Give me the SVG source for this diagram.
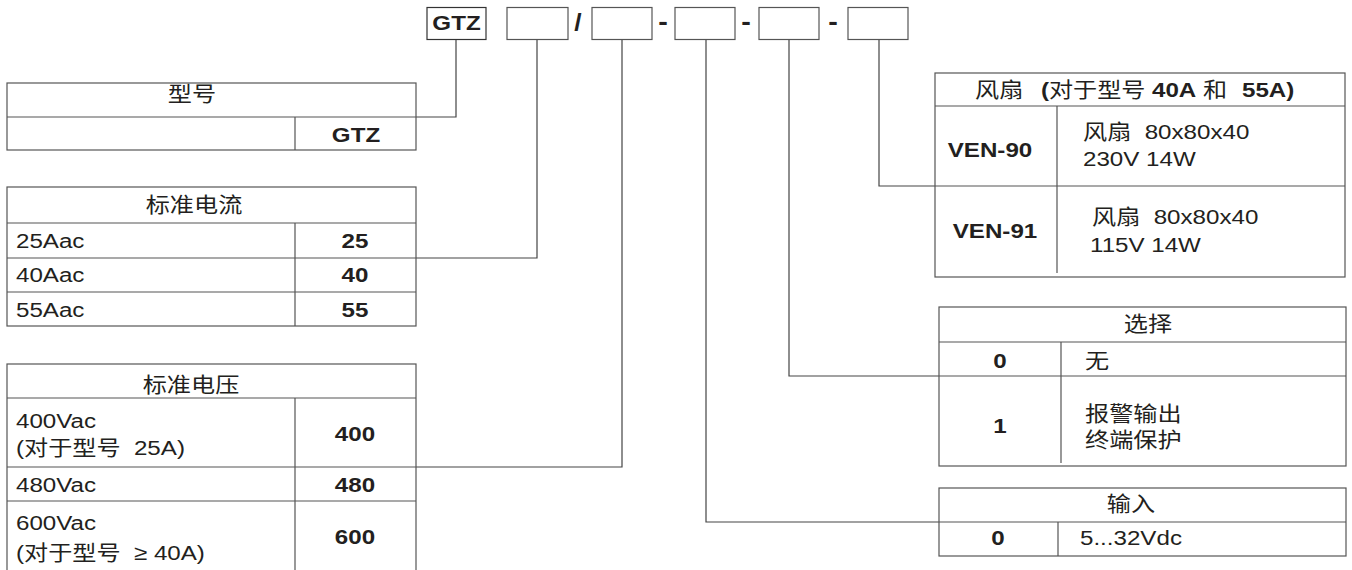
<svg xmlns="http://www.w3.org/2000/svg" width="1352" height="570" viewBox="0 0 1352 570">
<style>
.t{font-family:"Liberation Sans","Noto Sans CJK SC",sans-serif;font-size:21px;fill:#231f20}
.b{font-weight:bold}
.m{text-anchor:middle}
.sep{font-size:25px}
.frame{fill:none;stroke:#555;stroke-width:1.2}
.ln{stroke:#555;stroke-width:1.2;fill:none}
.conn{fill:none;stroke:#444;stroke-width:1.2}
.top{fill:none;stroke:#555;stroke-width:1.2}
</style>
<rect width="1352" height="570" fill="#fff"/>

<g id="code">
  <rect class="top" x="427" y="7.5" width="59" height="32" style="stroke:#333"/>
  <text class="t b m" transform="translate(456.5 30) scale(1.15 1)">GTZ</text>
  <rect class="top" x="507" y="7.5" width="61" height="32"/>
  <text class="t b m" style="font-size:23px" transform="translate(578 31) scale(1.15 1)">/</text>
  <rect class="top" x="592" y="7.5" width="60" height="32"/>
  <text class="t b m sep" transform="translate(663 30) scale(1.15 1)">-</text>
  <rect class="top" x="675" y="7.5" width="60" height="32"/>
  <text class="t b m sep" transform="translate(746 30) scale(1.15 1)">-</text>
  <rect class="top" x="759" y="7.5" width="60" height="32"/>
  <text class="t b m sep" transform="translate(833 30) scale(1.15 1)">-</text>
  <rect class="top" x="848" y="7.5" width="60" height="32"/>
</g>

<g id="connectors">
  <path class="conn" d="M456,40 V117 H416"/>
  <path class="conn" d="M537,40 V258 H416"/>
  <path class="conn" d="M622,40 V467 H416"/>
  <path class="conn" d="M706,40 V522 H939"/>
  <path class="conn" d="M789,40 V376 H939"/>
  <path class="conn" d="M879,40 V186 H935"/>
</g>

<g id="model">
  <rect class="frame" x="7" y="83" width="409" height="67"/>
  <path class="ln" d="M7,117 H416 M295,117 V150"/>
  <text class="t m" transform="translate(192 101) scale(1.15 1)">型号</text>
  <text class="t b m" transform="translate(356 142) scale(1.15 1)">GTZ</text>
</g>

<g id="current">
  <rect class="frame" x="7" y="187" width="409" height="139"/>
  <path class="ln" d="M7,223 H416 M7,258 H416 M7,292 H416 M295,223 V326"/>
  <text class="t m" transform="translate(194 212) scale(1.15 1)">标准电流</text>
  <text class="t" transform="translate(16 248) scale(1.15 1)">25Aac</text>
  <text class="t b m" transform="translate(355 248) scale(1.15 1)">25</text>
  <text class="t" transform="translate(16 282) scale(1.15 1)">40Aac</text>
  <text class="t b m" transform="translate(355 282) scale(1.15 1)">40</text>
  <text class="t" transform="translate(16 317) scale(1.15 1)">55Aac</text>
  <text class="t b m" transform="translate(355 317) scale(1.15 1)">55</text>
</g>

<g id="voltage">
  <rect class="frame" x="7" y="364" width="409" height="230"/>
  <path class="ln" d="M7,398 H416 M7,467 H416 M7,501 H416 M295,398 V594"/>
  <text class="t m" transform="translate(191 392) scale(1.15 1)">标准电压</text>
  <text class="t" transform="translate(16 428) scale(1.15 1)">400Vac</text>
  <text class="t" transform="translate(16 455) scale(1.15 1)">(对于型号&#160;&#160;25A)</text>
  <text class="t b m" transform="translate(355 441) scale(1.15 1)">400</text>
  <text class="t" transform="translate(16 492) scale(1.15 1)">480Vac</text>
  <text class="t b m" transform="translate(355 492) scale(1.15 1)">480</text>
  <text class="t" transform="translate(16 530) scale(1.15 1)">600Vac</text>
  <text class="t" transform="translate(16 560) scale(1.15 1)">(对于型号&#160;&#160;≥ 40A)</text>
  <text class="t b m" transform="translate(355 544) scale(1.15 1)">600</text>
</g>

<g id="fan">
  <rect class="frame" x="935" y="73" width="410" height="204"/>
  <path class="ln" d="M935,106 H1345 M935,186 H1345 M1057,106 V273"/>
  <text class="t" transform="translate(975 97) scale(1.15 1)"><tspan x="0">风扇</tspan><tspan class="b" x="57.4">(</tspan><tspan x="64.3">对于型号</tspan><tspan class="b" x="153.9">40A</tspan><tspan x="198.3">和</tspan><tspan class="b" x="232.2">55A)</tspan></text>
  <text class="t b m" transform="translate(990 157) scale(1.15 1)">VEN-90</text>
  <text class="t" transform="translate(1083 139) scale(1.15 1)">风扇&#160;&#160;80x80x40</text>
  <text class="t" transform="translate(1083 166) scale(1.15 1)">230V 14W</text>
  <text class="t b m" transform="translate(995 238) scale(1.15 1)">VEN-91</text>
  <text class="t" transform="translate(1092 224) scale(1.15 1)">风扇&#160;&#160;80x80x40</text>
  <text class="t" transform="translate(1090 252) scale(1.15 1)">115V 14W</text>
</g>

<g id="option">
  <rect class="frame" x="939" y="307" width="407" height="159"/>
  <path class="ln" d="M939,342 H1346 M939,376 H1346 M1061,342 V463"/>
  <text class="t m" transform="translate(1148 331) scale(1.15 1)">选择</text>
  <text class="t b m" transform="translate(1000 368) scale(1.15 1)">0</text>
  <text class="t" transform="translate(1085 368) scale(1.15 1)">无</text>
  <text class="t b m" transform="translate(1000 433) scale(1.15 1)">1</text>
  <text class="t" transform="translate(1085 421) scale(1.15 1)">报警输出</text>
  <text class="t" transform="translate(1085 447) scale(1.15 1)">终端保护</text>
</g>

<g id="input">
  <rect class="frame" x="939" y="488" width="407" height="68"/>
  <path class="ln" d="M939,522 H1346 M1058,522 V556"/>
  <text class="t m" transform="translate(1131 511) scale(1.15 1)">输入</text>
  <text class="t b m" transform="translate(998 545) scale(1.15 1)">0</text>
  <text class="t" transform="translate(1080 545) scale(1.15 1)">5...32Vdc</text>
</g>
</svg>
